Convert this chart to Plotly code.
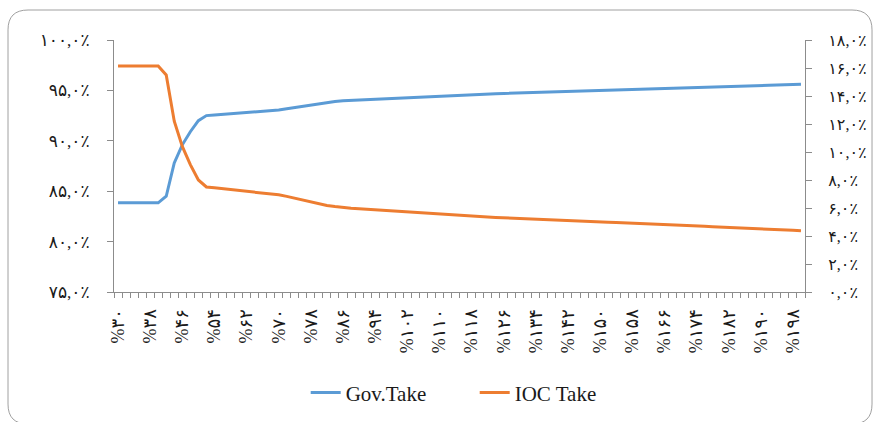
import plotly.graph_objects as go

# ---- data -------------------------------------------------------------
rates = [30, 32, 34, 36, 38, 40, 42, 44, 46, 48, 50, 52, 54, 56, 58, 60, 62, 64, 66, 68,
         70, 72, 74, 76, 78, 80, 82, 84, 86, 88, 90, 92, 94, 96, 98, 100, 102, 104, 106, 108,
         110, 112, 114, 116, 118, 120, 122, 124, 126, 128, 130, 132, 134, 136, 138, 140, 142, 144, 146, 148,
         150, 152, 154, 156, 158, 160, 162, 164, 166, 168, 170, 172, 174, 176, 178, 180, 182, 184, 186, 188,
         190, 192, 194, 196, 198, 200]

gov_take = [83.85, 83.85, 83.85, 83.85, 83.85, 83.85, 84.5, 87.8, 89.6, 90.9,
            92.0, 92.5, 92.56, 92.62, 92.68, 92.73, 92.78, 92.84, 92.90, 92.97,
            93.06, 93.17, 93.30, 93.43, 93.57, 93.70, 93.82, 93.90, 93.98, 94.02,
            94.06, 94.10, 94.14, 94.18, 94.22, 94.26, 94.30, 94.34, 94.38, 94.42,
            94.46, 94.50, 94.54, 94.57, 94.60, 94.63, 94.65, 94.68, 94.70, 94.72,
            94.75, 94.77, 94.79, 94.81, 94.84, 94.86, 94.89, 94.91, 94.94, 94.96,
            94.99, 95.01, 95.04, 95.06, 95.09, 95.11, 95.14, 95.16, 95.19, 95.21,
            95.24, 95.26, 95.29, 95.31, 95.34, 95.36, 95.39, 95.41, 95.44, 95.46,
            95.49, 95.51, 95.54, 95.56, 95.59, 95.62]

ioc_take = [16.15, 16.15, 16.15, 16.15, 16.15, 16.15, 15.5, 12.2, 10.4, 9.1,
            8.0, 7.5, 7.44, 7.38, 7.32, 7.27, 7.22, 7.16, 7.10, 7.03,
            6.94, 6.83, 6.70, 6.57, 6.43, 6.30, 6.18, 6.10, 6.02, 5.98,
            5.94, 5.90, 5.86, 5.82, 5.78, 5.74, 5.70, 5.66, 5.62, 5.58,
            5.54, 5.50, 5.46, 5.43, 5.40, 5.37, 5.35, 5.32, 5.30, 5.28,
            5.25, 5.23, 5.21, 5.19, 5.16, 5.14, 5.11, 5.09, 5.06, 5.04,
            5.01, 4.99, 4.96, 4.94, 4.91, 4.89, 4.86, 4.84, 4.81, 4.79,
            4.76, 4.74, 4.71, 4.69, 4.66, 4.64, 4.61, 4.59, 4.56, 4.54,
            4.51, 4.49, 4.46, 4.44, 4.41, 4.38]

x_tick_values = [30, 38, 46, 54, 62, 70, 78, 86, 94, 102, 110, 118, 126, 134, 142,
                 150, 158, 166, 174, 182, 190, 198]
x_tick_labels = ["%۳۰", "%۳۸", "%۴۶", "%۵۴", "%۶۲", "%۷۰", "%۷۸", "%۸۶", "%۹۴", "%۱۰۲",
                 "%۱۱۰", "%۱۱۸", "%۱۲۶", "%۱۳۴", "%۱۴۲", "%۱۵۰", "%۱۵۸", "%۱۶۶",
                 "%۱۷۴", "%۱۸۲", "%۱۹۰", "%۱۹۸"]

left_tick_values = [75, 80, 85, 90, 95, 100]
left_tick_labels = ["۷۵,۰٪", "۸۰,۰٪", "۸۵,۰٪", "۹۰,۰٪", "۹۵,۰٪", "۱۰۰,۰٪"]

right_tick_values = [0, 2, 4, 6, 8, 10, 12, 14, 16, 18]
right_tick_labels = ["۰,۰٪", "۲,۰٪", "۴,۰٪", "۶,۰٪", "۸,۰٪", "۱۰,۰٪", "۱۲,۰٪",
                     "۱۴,۰٪", "۱۶,۰٪", "۱۸,۰٪"]

# ---- figure -----------------------------------------------------------
BLUE = "#5B9BD5"
ORANGE = "#ED7D31"
AXIS = "#8c8c8c"
TXT = "#1a1a1a"
YFONT = dict(family="Liberation Serif, DejaVu Sans, serif", size=17, color=TXT)
Y2FONT = dict(family="Liberation Serif, DejaVu Sans, serif", size=16, color=TXT)
XFONT = dict(family="Liberation Serif, DejaVu Sans, serif", size=18, color=TXT)

fig = go.Figure()
fig.add_trace(go.Scatter(x=rates, y=gov_take, name="Gov.Take", mode="lines",
                         line=dict(color=BLUE, width=3), yaxis="y"))
fig.add_trace(go.Scatter(x=rates, y=ioc_take, name="IOC Take", mode="lines",
                         line=dict(color=ORANGE, width=3), yaxis="y2"))

# category boundaries for tick marks
boundaries = [r - 1 for r in rates] + [rates[-1] + 1]

fig.update_layout(
    width=874, height=422,
    margin=dict(l=114, r=69, t=40, b=130, autoexpand=False),
    paper_bgcolor="white", plot_bgcolor="white",
    showlegend=True,
    legend=dict(orientation="h", x=0.522, xanchor="center", y=-0.40, yanchor="middle",
                font=dict(family="Liberation Serif, serif", size=21, color=TXT),
                entrywidth=124, bgcolor="rgba(0,0,0,0)"),
    xaxis=dict(range=[rates[0] - 1, rates[-1] + 1], tickmode="array",
               tickvals=x_tick_values, ticktext=x_tick_labels, tickangle=-90,
               ticks="", showline=True, linecolor=AXIS, linewidth=1,
               showgrid=False, zeroline=False, tickfont=XFONT,
               ticklabelstandoff=9, automargin=False,
               minor=dict(tickmode="array", tickvals=boundaries, ticks="outside",
                          ticklen=5, tickcolor=AXIS, showgrid=False)),
    yaxis=dict(range=[75, 100], tickmode="array", tickvals=left_tick_values,
               ticktext=left_tick_labels, ticks="outside", ticklen=6, tickcolor=AXIS,
               showline=True, linecolor=AXIS, linewidth=1, showgrid=False,
               zeroline=False, tickfont=YFONT, ticklabelstandoff=14, automargin=False),
    yaxis2=dict(range=[0, 18], overlaying="y", side="right", tickmode="array",
                tickvals=right_tick_values, ticktext=right_tick_labels,
                ticks="outside", ticklen=6, tickcolor=AXIS, showline=True,
                linecolor=AXIS, linewidth=1, showgrid=False, zeroline=False,
                tickfont=Y2FONT, ticklabelstandoff=13, automargin=False),
)

# rounded chart border (paper coords)
L, R, T, B = -0.1534, 1.0970, 1.1190, -0.5238
rx, ry = 0.029, 0.079
path = (f"M {L+rx},{T} L {R-rx},{T} Q {R},{T} {R},{T-ry} L {R},{B+ry} "
        f"Q {R},{B} {R-rx},{B} L {L+rx},{B} Q {L},{B} {L},{B+ry} "
        f"L {L},{T-ry} Q {L},{T} {L+rx},{T} Z")
fig.add_shape(type="path", path=path, xref="paper", yref="paper",
              line=dict(color="#a0a0a0", width=1), layer="below")

fig.write_html("out.html", config={"displayModeBar": False},
               post_script="document.body.style.margin='0';")
